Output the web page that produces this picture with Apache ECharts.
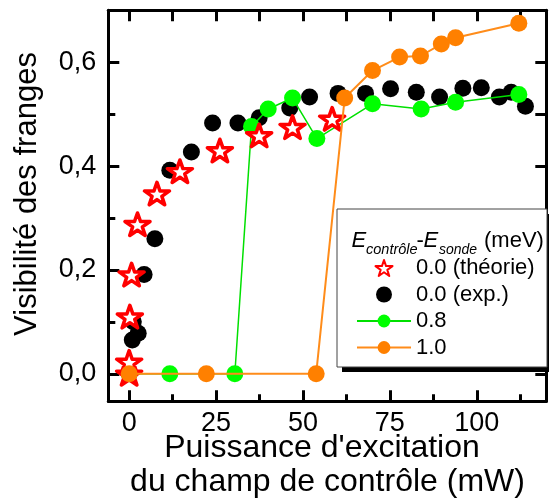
<!DOCTYPE html>
<html><head><meta charset="utf-8">
<script src="https://cdn.jsdelivr.net/npm/echarts@6/dist/echarts.min.js"></script>
<style>html,body{margin:0;padding:0;background:#fff}#c{width:549px;height:503px}</style>
</head><body><div id="c"></div>
<script>
// ---- data ----
const theoryX = [0, 0, 0.2, 0.7, 2.4, 8.0, 14.6, 26.1, 37.4, 47.0, 58.4];
const theoryY = [0.0, 0.023, 0.11, 0.191, 0.288, 0.347, 0.39, 0.430, 0.459, 0.475, 0.491];
const expX = [0.9, 2.6, 1.2, 4.3, 7.4, 11.7, 17.9, 24.0, 31.3, 37.4, 46.2, 51.9, 60.1, 68.0, 75.2, 82.6, 89.3, 96.0, 101.3, 106.5, 109.9, 114.0];
const expY = [0.065, 0.078, 0.10, 0.191, 0.26, 0.392, 0.427, 0.483, 0.483, 0.493, 0.512, 0.533, 0.540, 0.540, 0.549, 0.542, 0.533, 0.550, 0.551, 0.533, 0.542, 0.515];
const g08X = [0, 11.7, 30.4, 35.2, 40.0, 47.0, 54.0, 70.0, 84.0, 93.9, 112.1];
const g08Y = [0, 0, 0, 0.476, 0.510, 0.531, 0.453, 0.520, 0.510, 0.523, 0.538];
const o10X = [0, 22.2, 53.8, 62.0, 70.0, 77.8, 83.8, 89.8, 93.9, 112.1];
const o10Y = [0, 0, 0, 0.531, 0.584, 0.610, 0.612, 0.635, 0.647, 0.675];
const xTicks = [0, 25, 50, 75, 100];
const xMinorTicks = [12.5, 37.5, 62.5, 87.5, 112.5];
const yTicks = [0, 0.2, 0.4, 0.6];
const yMinorTicks = [0.1, 0.3, 0.5];
const seriesNames = ['0.0 (théorie)', '0.0 (exp.)', '0.8', '1.0'];
const xTitle1 = "Puissance d'excitation";
const xTitle2 = "du champ de contrôle (mW)";
const yTitle = "Visibilité des franges";

const FONT = '"Liberation Sans", Arial, sans-serif';
const pairs = (xs, ys) => xs.map((x, i) => [x, ys[i]]);
const STAR = 'path://M50,0 L61.8,35.1 L98.9,35.1 L69.1,56.9 L80.3,91.9 L50,70.4 L19.7,91.9 L30.9,56.9 L1.1,35.1 L38.2,35.1 Z';

const XMIN = -6, XMAX = 120, YMIN = -0.053, YMAX = 0.7;
const axisBase = (extra) => Object.assign({
  type: 'value', splitLine: { show: false },
  axisLine: { show: false, onZero: false },
  axisLabel: { show: false },
}, extra);

const chart = echarts.init(document.getElementById('c'), null, { renderer: 'canvas' });
chart.setOption({
  animation: false,
  grid: { left: 108.3, right: 2.7, top: 10.3, bottom: 101.7, containLabel: false },
  xAxis: [
    axisBase({ position: 'bottom', min: XMIN, max: XMAX,
      axisLine: { show: true, onZero: false, lineStyle: { color: '#000', width: 3 } },
      axisTick: { show: true, inside: true, length: 11, lineStyle: { color: '#000', width: 3 }, customValues: xTicks },
      axisLabel: { show: true, customValues: xTicks, fontSize: 27, color: '#000', fontFamily: FONT, margin: 9 } }),
    axisBase({ position: 'bottom', min: XMIN, max: XMAX,
      axisTick: { show: true, inside: true, length: 7, lineStyle: { color: '#000', width: 3 }, customValues: xMinorTicks } }),
    axisBase({ position: 'top', min: XMIN, max: XMAX,
      axisLine: { show: true, onZero: false, lineStyle: { color: '#000', width: 3 } },
      axisTick: { show: true, inside: true, length: 11, lineStyle: { color: '#000', width: 3 }, customValues: xTicks.concat(xMinorTicks) } })
  ],
  yAxis: [
    axisBase({ position: 'left', min: YMIN, max: YMAX,
      axisLine: { show: true, onZero: false, lineStyle: { color: '#000', width: 3 } },
      axisTick: { show: true, inside: true, length: 11, lineStyle: { color: '#000', width: 3 }, customValues: yTicks },
      axisLabel: { show: true, customValues: yTicks, fontSize: 27, color: '#000', fontFamily: FONT, margin: 12,
        formatter: v => v.toFixed(1).replace('.', ',') } }),
    axisBase({ position: 'left', min: YMIN, max: YMAX,
      axisTick: { show: true, inside: true, length: 7, lineStyle: { color: '#000', width: 3 }, customValues: yMinorTicks } }),
    axisBase({ position: 'right', min: YMIN, max: YMAX,
      axisLine: { show: true, onZero: false, lineStyle: { color: '#000', width: 3 } },
      axisTick: { show: true, inside: true, length: 11, lineStyle: { color: '#000', width: 3 }, customValues: yTicks.concat(yMinorTicks) } })
  ],
  legend: {
    data: seriesNames, orient: 'vertical', left: 356, top: 256, padding: 0, itemGap: 2.5,
    itemWidth: 54, itemHeight: 16, selectedMode: false, z: 70,
    textStyle: { fontSize: 22, color: '#000', fontFamily: FONT, lineHeight: 24 }
  },
  graphic: [
    { type: 'rect', z: 50, shape: { x: 342, y: 214, width: 210, height: 158 }, style: { fill: '#000' } },
    { type: 'rect', z: 51, shape: { x: 337, y: 209, width: 210, height: 158 }, style: { fill: '#fff', stroke: '#444', lineWidth: 1 } },
    { type: 'text', z: 60, x: 351.5, y: 240.5, style: { text: 'E', fontSize: 22, fontStyle: 'italic', fontFamily: FONT, fill: '#000', verticalAlign: 'middle' } },
    { type: 'text', z: 60, x: 366, y: 250, style: { text: 'contrôle', fontSize: 14.5, fontStyle: 'italic', fontFamily: FONT, fill: '#000', verticalAlign: 'middle' } },
    { type: 'text', z: 60, x: 416.5, y: 240.5, style: { text: '-', fontSize: 22, fontFamily: FONT, fill: '#000', verticalAlign: 'middle' } },
    { type: 'text', z: 60, x: 423.5, y: 240.5, style: { text: 'E', fontSize: 22, fontStyle: 'italic', fontFamily: FONT, fill: '#000', verticalAlign: 'middle' } },
    { type: 'text', z: 60, x: 439, y: 250, style: { text: 'sonde', fontSize: 14, fontStyle: 'italic', fontFamily: FONT, fill: '#000', verticalAlign: 'middle' } },
    { type: 'text', z: 60, x: 484, y: 240.5, style: { text: '(meV)', fontSize: 22, fontFamily: FONT, fill: '#000', verticalAlign: 'middle' } },
    { type: 'text', z: 60, x: 322, y: 448, style: { text: xTitle1, fontSize: 32, fontFamily: FONT, fill: '#000', align: 'center', verticalAlign: 'middle' } },
    { type: 'text', z: 60, x: 327.5, y: 482, style: { text: xTitle2, fontSize: 32, fontFamily: FONT, fill: '#000', align: 'center', verticalAlign: 'middle' } },
    { type: 'text', z: 60, x: 27, y: 194, rotation: Math.PI / 2, style: { text: yTitle, fontSize: 31, fontFamily: FONT, fill: '#000', align: 'center', verticalAlign: 'middle' } }
  ],
  series: [
    { name: seriesNames[1], type: 'scatter', data: pairs(expX, expY), symbol: 'circle', symbolSize: 17,
      itemStyle: { color: '#000', opacity: 1 }, z: 2 },
    { name: seriesNames[2], type: 'line', data: pairs(g08X, g08Y), symbol: 'circle', symbolSize: 17, showSymbol: true,
      itemStyle: { color: '#00FF00', opacity: 1 }, lineStyle: { color: '#00E000', width: 1.5 }, z: 3 },
    { name: seriesNames[0], type: 'scatter', data: pairs(theoryX, theoryY), symbol: STAR, symbolSize: [25, 24], symbolKeepAspect: true,
      itemStyle: { color: '#fff', borderColor: '#FF0000', borderWidth: 3.5, borderJoin: 'round', opacity: 1 }, z: 4 },
    { name: seriesNames[3], type: 'line', data: pairs(o10X, o10Y), symbol: 'circle', symbolSize: 17, showSymbol: true,
      itemStyle: { color: '#FF8000', opacity: 1 }, lineStyle: { color: '#FF8C1A', width: 2 }, z: 5 }
  ]
});
</script></body></html>
